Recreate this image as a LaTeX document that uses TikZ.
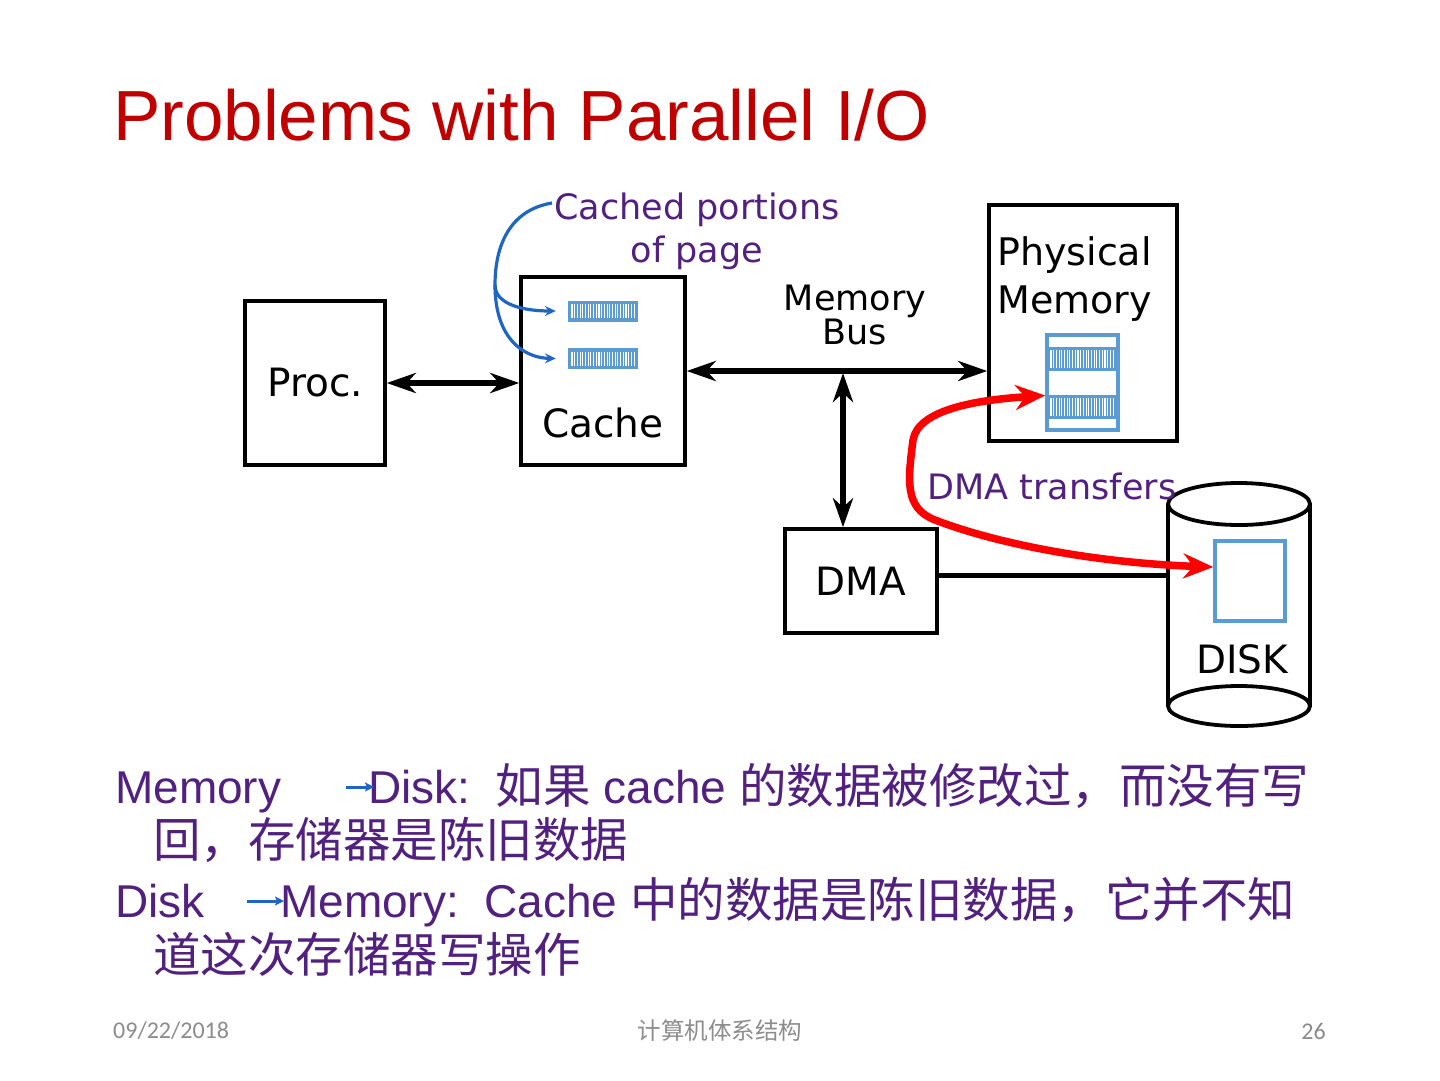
\documentclass[tikz,border=0pt]{standalone}
\usepackage{fontspec}
\setmainfont{Liberation Sans}
\newfontfamily\dvfont{DejaVu Sans}
\newfontfamily\cjkfont{Noto Sans CJK SC}
\newfontfamily\calfont{Carlito}
\usetikzlibrary{arrows.meta}
\definecolor{ttlred}{HTML}{C00000}
\definecolor{txtpurple}{HTML}{52207F}
\definecolor{lblue}{HTML}{5B9BD5}
\definecolor{cblue}{HTML}{1F66C4}
\definecolor{footgray}{HTML}{8C8C8C}
\newcommand\zhtxt[1]{{\cjkfont\fontsize{47.5}{50}\selectfont #1}}
\begin{document}
\begin{tikzpicture}[x=1pt,y=-1pt,
  box/.style={draw, line width=3.5pt, inner sep=0pt, font=\dvfont\fontsize{39}{44}\selectfont},
  dlabel/.style={font=\dvfont\fontsize{39}{44}\selectfont, inner sep=0pt},
  plabel/.style={font=\dvfont\fontsize{35}{43}\selectfont, text=txtpurple, align=center, inner sep=0pt},
  blk/.style={font=\dvfont\fontsize{38}{44}\selectfont, anchor=base west, inner sep=0pt},
  biarrow/.style={line width=5.5pt, {Stealth[length=29pt,width=20pt,inset=9pt]}-{Stealth[length=29pt,width=20pt,inset=9pt]}},
  redarrow/.style={red, line width=7.5pt, {Stealth[length=30pt,width=25pt,inset=10pt]}-{Stealth[length=30pt,width=25pt,inset=10pt]}},
  bluecurve/.style={cblue, line width=3.2pt, -{Stealth[length=11pt,width=10pt,inset=4pt]}},
  txtarrow/.style={cblue, line width=3pt, -{Stealth[length=9pt,width=9pt,inset=2pt]}},
  body/.style={font=\fontsize{46}{50}\selectfont, text=txtpurple, anchor=base west, inner sep=0pt},
  foot/.style={font=\calfont\fontsize{24}{26}\selectfont, text=footgray, inner sep=0pt},
  stripe/.style={white, line width=1.1pt},
  lbluebox/.style={draw=lblue, line width=3.5pt, inner sep=0pt}
]
\useasboundingbox (0,0) rectangle (1440,1080);
\fill[white] (0,0) rectangle (1440,1080);

% title
\node[anchor=base west, font=\fontsize{71}{80}\selectfont, text=ttlred, inner sep=0pt] (title) at (113,140) {Problems with Parallel I/O};

% boxes
\node[box, minimum width=140pt, minimum height=164pt] (proc) at (315,383) {Proc.};
\node[box, minimum width=164pt, minimum height=188pt] (cache) at (603,371) {};
\node[dlabel] (cachelbl) at (603,423) {Cache};
\node[box, minimum width=188pt, minimum height=236pt] (phys) at (1083,323) {};
\node[blk] (physl1) at (997,265) {Physical};
\node[blk] (physl2) at (997,313) {Memory};
\node[box, minimum width=152pt, minimum height=104pt] (dma) at (861,581) {DMA};

% cache lines
\node[fill=lblue, minimum width=70pt, minimum height=21pt, inner sep=0pt] (cl1) at (603,311) {};
\node[fill=lblue, minimum width=70pt, minimum height=21pt, inner sep=0pt] (cl2) at (603,358.5) {};
\foreach \yy in {311,358.5}{
  \foreach \xx in {572,574.7,...,635}{
    \draw[stripe] (\xx,\yy-7) -- (\xx,\yy+7);
  }
}

% memory block in physical memory
\node[lbluebox, minimum width=71pt, minimum height=95pt] (memblk) at (1082.5,382.5) {};
\fill[lblue] (1047,346.5) rectangle (1118,371);
\fill[lblue] (1047,394.5) rectangle (1118,419);
\foreach \yy in {358.75,406.75}{
  \foreach \xx in {1051,1053.7,...,1115}{
    \draw[stripe] (\xx,\yy-9) -- (\xx,\yy+9);
  }
}

% disk cylinder
\node[minimum width=142pt, minimum height=202pt, inner sep=0pt] (disk) at (1239,605) {};
\fill[white] (1168,504) rectangle (1310,706);
\draw[line width=3.8pt] (1168,504) -- (1168,706);
\draw[line width=3.8pt] (1310,504) -- (1310,706);
\draw[line width=3.8pt, fill=white] (1239,504) ellipse [x radius=71, y radius=21];
\draw[line width=3.8pt, fill=white] (1239,706) ellipse [x radius=71, y radius=20];
\node[lbluebox, minimum width=70pt, minimum height=80pt] (diskblk) at (1250,581) {};
\node[dlabel] (disklbl) at (1242,659) {DISK};

% labels
\node[plabel] (cplbl) at (697,231) {Cached portions\\of page};
\node[font=\dvfont\fontsize{35}{34}\selectfont, align=center, inner sep=0pt] (buslbl) at (855,315) {Memory\\Bus};
\node[plabel] (dmalbl) at (1052,486) {DMA transfers};

% connectors
\draw[biarrow] (proc.east) -- (cache.west |- proc.east);
\draw[biarrow] (cache.east) -- (phys.west |- cache.east);
\coordinate (bustap) at (843,373);
\draw[biarrow] (bustap) -- (bustap |- dma.north);
\draw[line width=5pt] ([yshift=6pt]dma.east) -- ([yshift=6pt]dma.east -| disk.west);

% blue curves
\coordinate (cpstart) at (552,203);
\coordinate (cpmid) at (495,285);
\draw[bluecurve] (cpstart) .. controls (510,210) and (495,245) .. (cpmid)
   .. controls (495,305) and (525,311) .. ([xshift=-12pt]cl1.west);
\draw[bluecurve] (cpmid) .. controls (495,340) and (525,358) .. ([xshift=-12pt]cl2.west);

% red DMA transfer curve
\coordinate (memtip) at ([yshift=-13pt]memblk.west);
\coordinate (disktip) at ([yshift=14pt]diskblk.west);
\draw[redarrow] (memtip) .. controls (975,400) and (918,410) .. (913,440)
   .. controls (908,480) and (904,508) .. (935,520)
   .. controls (1000,545) and (1100,563) .. (disktip);

% bottom text
\node[body] (l1a) at (115,803) {Memory};
\node[body] (l1b) at (368,803) {Disk:\ \ \zhtxt{如果} cache \zhtxt{的数据被修改过，而没有写}};
\coordinate (a1s) at (346,787);
\coordinate (a1e) at (374,787);
\draw[txtarrow] (a1s) -- (a1e);
\node[body] (l2) at (153,857) {\zhtxt{回，存储器是陈旧数据}};
\node[body] (l3a) at (115,917) {Disk};
\node[body] (l3b) at (280,917) {Memory:\ \ Cache \zhtxt{中的数据是陈旧数据，它并不知}};
\coordinate (a2s) at (247,901);
\coordinate (a2e) at (284,901);
\draw[txtarrow] (a2s) -- (a2e);
\node[body] (l4) at (153,972) {\zhtxt{道这次存储器写操作}};

% footer
\node[foot, anchor=west] (date) at (113,1031) {09/22/2018};
\node[foot, font=\cjkfont\fontsize{23.5}{26}\selectfont] (course) at (720,1031) {计算机体系结构};
\node[foot, anchor=east] (pagenum) at (1326,1031) {26};
\end{tikzpicture}
\end{document}
